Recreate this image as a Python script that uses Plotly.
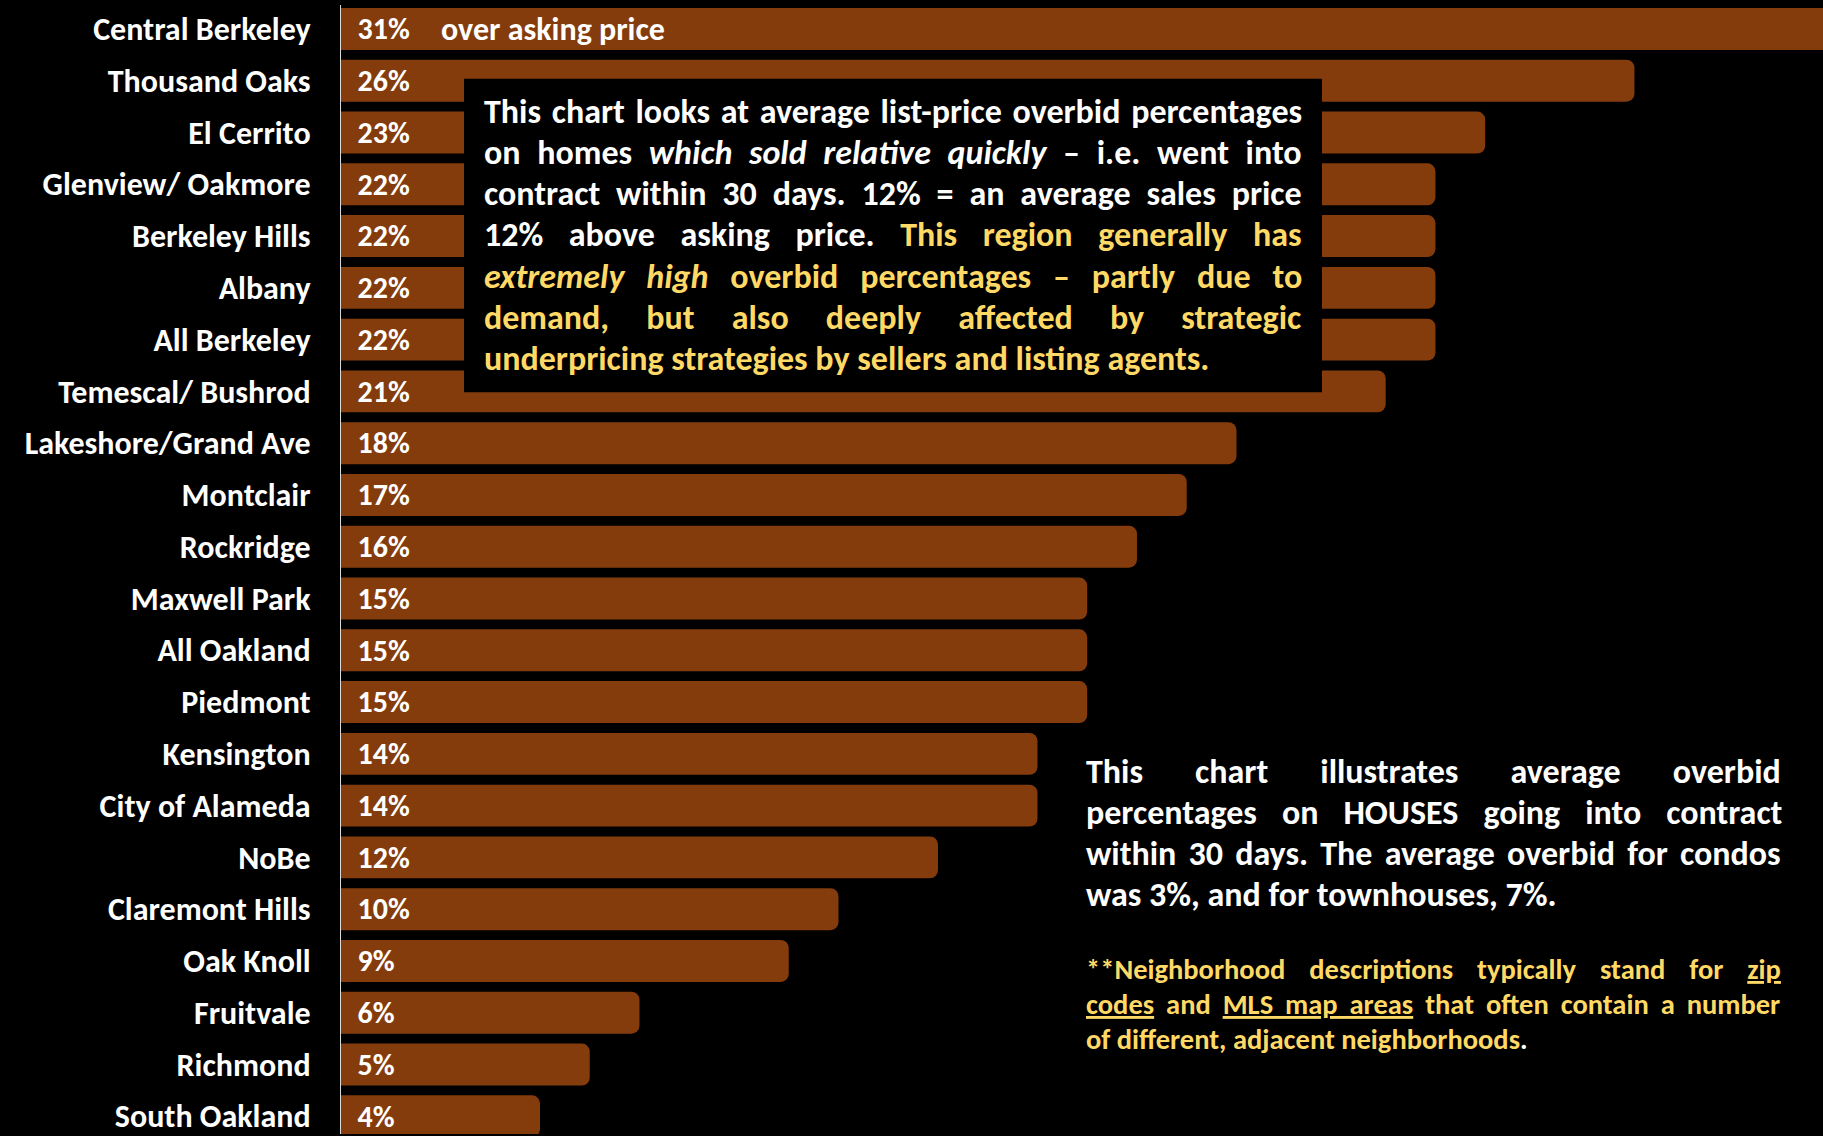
import plotly.graph_objects as go

# Neighbourhoods, top to bottom, and their average overbid percentage
neighborhoods = [
    "Central Berkeley", "Thousand Oaks", "El Cerrito", "Glenview/ Oakmore",
    "Berkeley Hills", "Albany", "All Berkeley", "Temescal/ Bushrod",
    "Lakeshore/Grand Ave", "Montclair", "Rockridge", "Maxwell Park",
    "All Oakland", "Piedmont", "Kensington", "City of Alameda", "NoBe",
    "Claremont Hills", "Oak Knoll", "Fruitvale", "Richmond", "South Oakland",
]
overbid_pct = [31, 26, 23, 22, 22, 22, 22, 21, 18, 17, 16, 15, 15, 15, 14, 14,
               12, 10, 9, 6, 5, 4]

FONT = "Calibri, Carlito, Lato, sans-serif"
BAR = "#843C0C"
GOLD = "#FFD966"

W, H = 1823, 1136
L, T = 341, 5
PW, PH = W - L, H - T


def px(x):
    return (x - L) / PW


def py(y):
    return 1 - (y - T) / PH


fig = go.Figure(go.Bar(
    x=overbid_pct,
    y=neighborhoods,
    orientation="h",
    marker=dict(color=BAR, cornerradius=8, line=dict(width=0)),
    text=[f"\u00a0\u00a0{v}%" for v in overbid_pct],
    textposition="inside",
    insidetextanchor="start",
    textangle=0,
    textfont=dict(family=FONT, size=35, color="white", weight="bold"),
    hoverinfo="skip",
))

annotations = [dict(
    text="over asking price", xref="paper", yref="paper",
    x=px(439), y=py(30), xanchor="left", yanchor="middle", showarrow=False,
    font=dict(family=FONT, size=32, color="white", weight="bold"),
)]


def add_line(text, x, y, size, color, ws=0.0):
    # justified lines get extra word spacing so they fill the column width
    if ws:
        text = f"<span style='word-spacing:{ws}px'>{text}</span>"
    annotations.append(dict(
        text=text, xref="paper", yref="paper", x=px(x), y=py(y),
        xanchor="left", yanchor="middle", showarrow=False, align="left",
        font=dict(family=FONT, size=size, color=color, weight="bold"),
    ))


gold = lambda s: f"<span style='color:{GOLD}'>{s}</span>"
ul = lambda s: f"<span style='text-decoration:underline'>{s}</span>"

# Boxed note over the upper bars
box_lines = [
    ("This chart looks at average list-price overbid percentages", "white", 3.0),
    ("on homes <i>which sold relative quickly</i> \u2013 i.e. went into", "white", 9.0),
    ("contract within 30 days. 12% = an average sales price", "white", 8.2),
    ("12% above asking price. " + gold("This region generally has"), "white", 17.9),
    ("<i>extremely high</i> overbid percentages \u2013 partly due to", GOLD, 14.2),
    ("demand, but also deeply affected by strategic", GOLD, 29.5),
    ("underpricing strategies by sellers and listing agents.", GOLD, 0),
]
for i, (txt, col, ws) in enumerate(box_lines):
    add_line(txt, 482, 111.5 + 41.25 * i, 34, col, ws)

# Note at lower right
side_lines = [
    ("This chart illustrates average overbid", 44.4),
    ("percentages on HOUSES going into contract", 17.3),
    ("within 30 days. The average overbid for condos", 4.5),
    ("was 3%, and for townhouses, 7%.", 0),
]
for i, (txt, ws) in enumerate(side_lines):
    add_line(txt, 1084, 773 + 41 * i, 34, "white", ws)

foot_lines = [
    ("**Neighborhood descriptions typically stand for " + ul("zip"), 17.5),
    (ul("codes") + " and " + ul("MLS map areas") + " that often contain a number", 5.5),
    ("of different, adjacent neighborhoods<span style='color:white'>.</span>", 0),
]
for i, (txt, ws) in enumerate(foot_lines):
    add_line(txt, 1084, 971 + 35 * i, 28.5, GOLD, ws)

fig.update_layout(
    width=W, height=H,
    margin=dict(l=L, r=0, t=T, b=0, pad=0),
    paper_bgcolor="black", plot_bgcolor="black",
    bargap=0.19,
    showlegend=False,
    xaxis=dict(range=[0, 29.79], visible=False, fixedrange=True),
    yaxis=dict(
        type="category",
        range=[21.342, -0.4627],
        showline=True, linecolor="#D9D9D9", linewidth=1,
        showgrid=False, zeroline=False, ticks="",
        ticklabelstandoff=23,
        tickfont=dict(family=FONT, size=32, color="white", weight="bold"),
        fixedrange=True,
    ),
    shapes=[dict(
        type="rect", xref="paper", yref="paper",
        x0=px(464), x1=px(1322), y0=py(79), y1=py(393),
        fillcolor="black", line=dict(width=0), layer="above",
    )],
    annotations=annotations,
)

fig.write_html("out.html", config={"displayModeBar": False})
